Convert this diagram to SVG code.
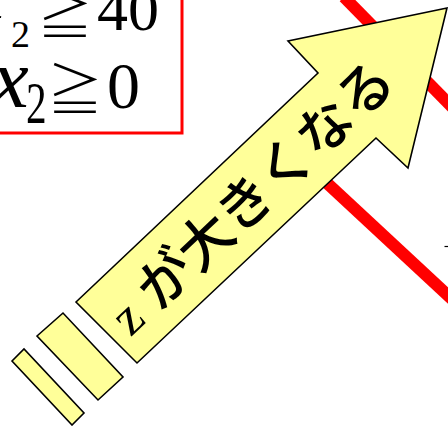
<svg xmlns="http://www.w3.org/2000/svg" width="448" height="426" viewBox="0 0 448 426">
<style>
.red{stroke:#ff0000;stroke-width:12;fill:none}
.ar{fill:#ffff99;stroke:#000;stroke-width:1.6;stroke-linejoin:miter}
.ser{font-family:"Liberation Serif","Times New Roman",serif;fill:#000}
.jp{font-family:"Noto Sans CJK JP","Noto Sans",sans-serif;fill:#000}
</style>
<rect width="448" height="426" fill="#fff"/>
<g id="lines">
<line class="red" x1="344" y1="-3" x2="456" y2="111"/>
<line class="red" x1="300" y1="158" x2="456" y2="303"/>
<line x1="444.5" y1="246.5" x2="448" y2="246.5" stroke="#000" stroke-width="1.2"/>
</g>
<g id="constraints">
<rect x="-10" y="-10" width="192" height="143" fill="#fff" stroke="#ff0000" stroke-width="3"/>
<text class="ser" x="-34" y="18" font-size="85" font-style="italic">x</text>
<text class="ser" x="11" y="47" font-size="38">2</text>
<text class="jp" x="37" y="34" font-size="56" font-weight="300">≧</text>
<text class="ser" x="97" y="30" font-size="62">40</text>
<text class="ser" x="-9" y="107" font-size="85" font-style="italic">x</text>
<text class="ser" transform="translate(26,123) scale(0.7,1)" x="0" y="0" font-size="59">2</text>
<text class="jp" x="47" y="110" font-size="56" font-weight="300">≧</text>
<text class="ser" x="107" y="108" font-size="66">0</text>
</g>
<g id="arrow">
<polygon class="ar" points="76,302 318,73 288,41 447,8 408,168 376,138 137,363"/>
<polygon class="ar" points="37,336 63,313 123,377 98,400"/>
<polygon class="ar" points="12,361 24,349 84,413 72,425"/>
<g transform="translate(106.5,332.5) rotate(-43.4)">
<text class="ser" x="14" y="20" font-size="52">z</text>
<text class="jp" x="52" y="21" font-size="55" font-weight="500">が大きくなる</text>
</g>
</g>
</svg>
